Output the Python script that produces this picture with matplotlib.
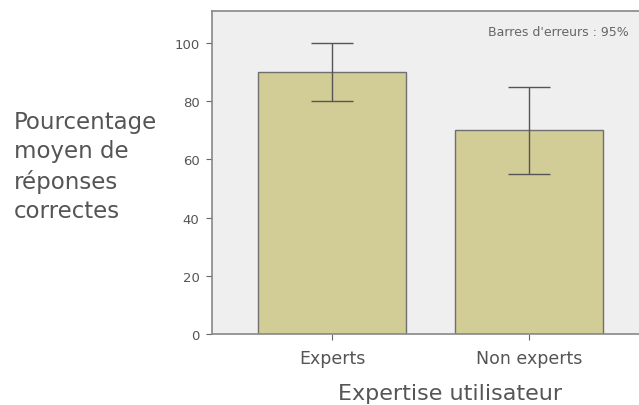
import matplotlib
matplotlib.use("Agg")
import matplotlib.pyplot as plt
import numpy as np

plt.rcParams['font.family'] = ['DejaVu Sans']

categories = ["Experts", "Non experts"]
means = [90, 70]
ci_low = [80, 55]
ci_high = [100, 85]
yticks = [0, 20, 40, 60, 80, 100]

fig = plt.figure(figsize=(6.39, 4.06), dpi=100)
ax = fig.add_axes([212/639, 1-335/406, (639-212)/639, (335-12)/406])
ax.set_facecolor('#efefef')

x = np.arange(len(categories))
means_a = np.array(means)
yerr = np.vstack([means_a - np.array(ci_low), np.array(ci_high) - means_a])
ax.bar(x, means, width=0.75, color='#d2cd96', edgecolor='#6f6f6f', linewidth=1.0, zorder=2)
ax.errorbar(x, means, yerr=yerr, fmt='none', ecolor='#555555', elinewidth=1.0,
            capsize=15, capthick=1.0, zorder=3)

ax.set_xlim(-0.61, 1.56)
ax.set_ylim(0, 111)
ax.set_yticks(yticks)
ax.set_yticklabels([str(t) for t in yticks], fontsize=9.5, color='#555555')
ax.set_xticks(x)
ax.set_xticklabels(categories, fontsize=12.5, color='#555555')
ax.tick_params(axis='y', length=4, color='#666666', pad=5)
ax.tick_params(axis='x', length=4, color='#666666', pad=7)

for s in ['left', 'top', 'bottom']:
    ax.spines[s].set_color('#888888')
    ax.spines[s].set_linewidth(1.2)
ax.spines['right'].set_visible(False)

ax.set_xlabel("Expertise utilisateur", fontsize=16, color='#555555', labelpad=11)
ax.xaxis.label.set_x(0.557)
fig.text(14/639, 1-167/406, "Pourcentage\nmoyen de\nréponses\ncorrectes",
         fontsize=16.5, color='#555555', ha='left', va='center', linespacing=1.35)
ax.text(0.975, 0.935, "Barres d'erreurs : 95%", transform=ax.transAxes,
        fontsize=9, color='#666666', ha='right', va='center')

fig.savefig("out.png", dpi=100)
